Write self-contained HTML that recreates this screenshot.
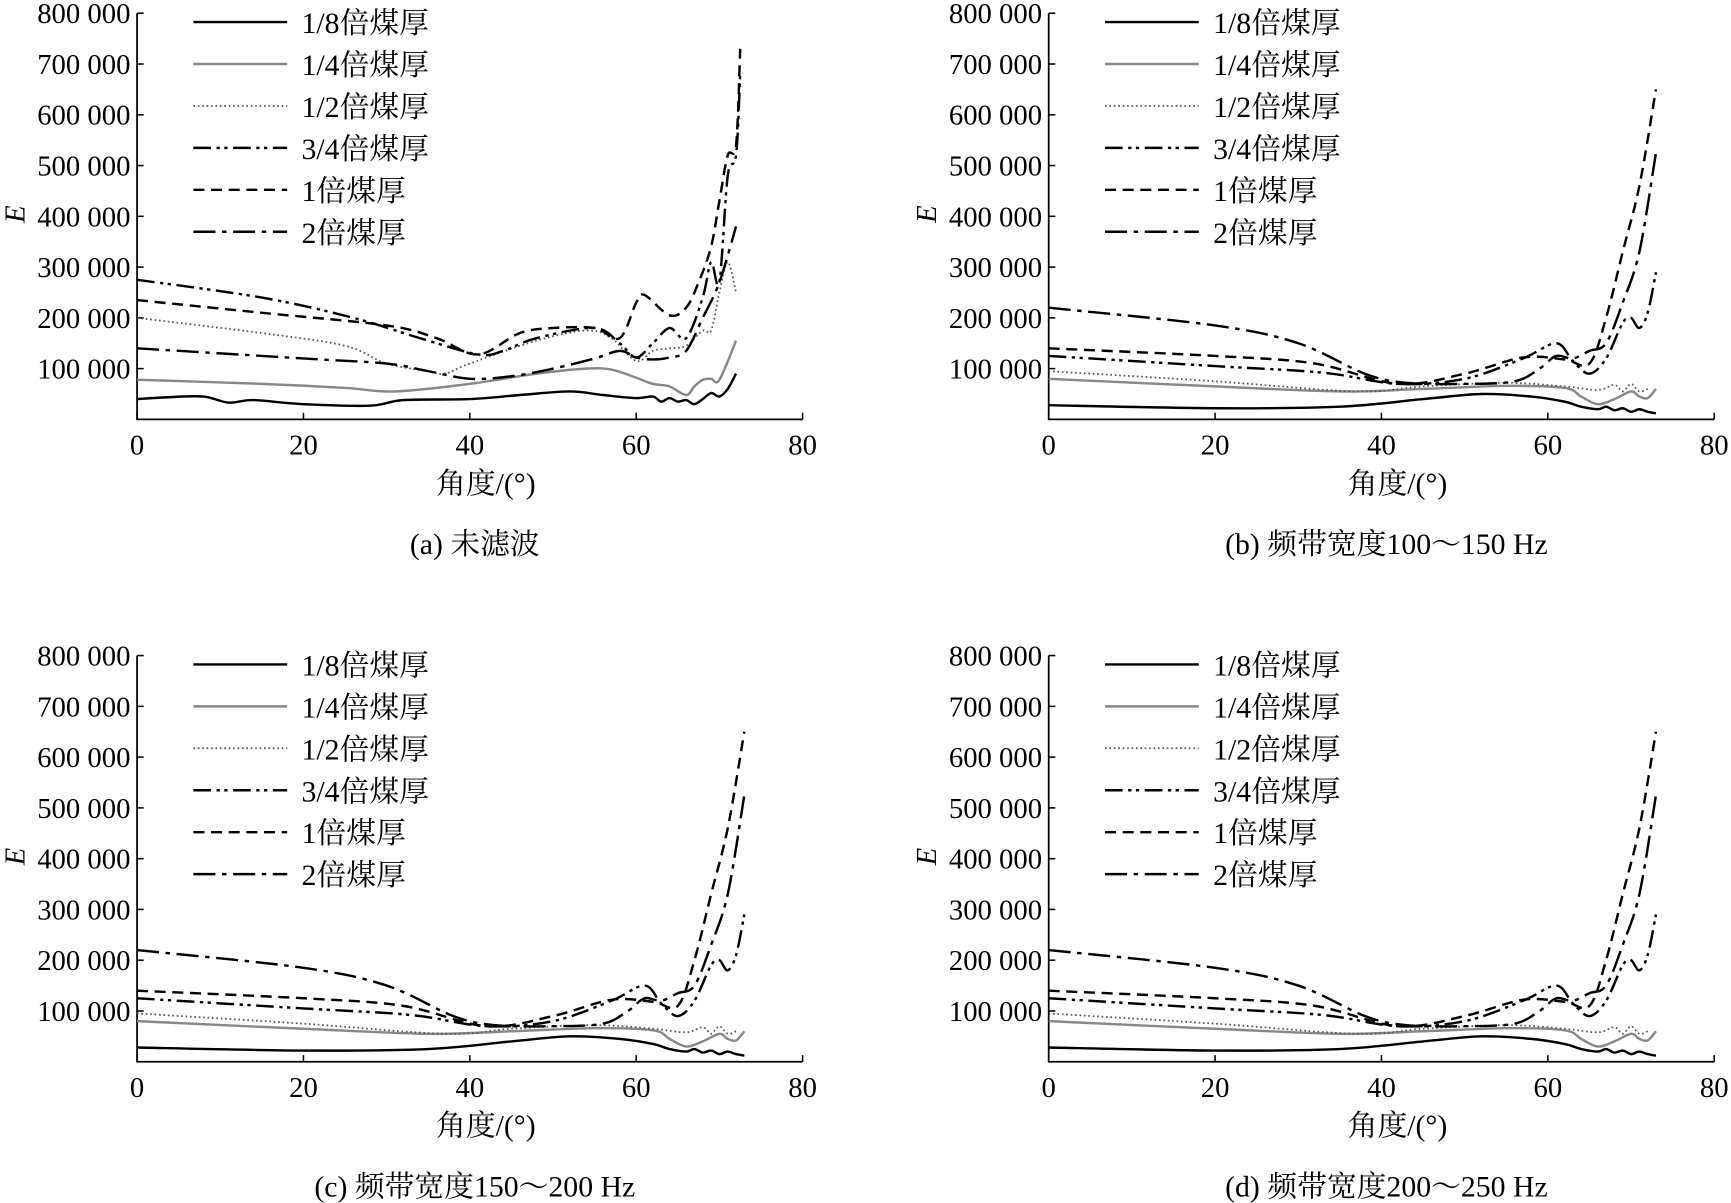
<!DOCTYPE html>
<html><head><meta charset="utf-8"><style>
html,body{margin:0;padding:0;background:#fff;}
svg{display:block;}
text{font-family:"Liberation Serif","Noto Serif CJK SC",serif;fill:#000;}
</style></head><body>
<svg id="fig" width="1731" height="1203" viewBox="0 0 1568 1090" xmlns="http://www.w3.org/2000/svg"></svg>
<script>
// ---- data (angle in degrees, energy E) ----
const xTicks=[0,20,40,60,80];
const yTicks=[100000,200000,300000,400000,500000,600000,700000,800000];
const yTickLabels=["100 000","200 000","300 000","400 000","500 000","600 000","700 000","800 000"];
const seriesNames=["1/8倍煤厚","1/4倍煤厚","1/2倍煤厚","3/4倍煤厚","1倍煤厚","2倍煤厚"];
const captions=["(a)  未滤波","(b) 频带宽度100～150 Hz","(c)  频带宽度150～200 Hz","(d) 频带宽度200～250 Hz"];

// Panel a
const aX1=[0,4,8,11,14,20,28,32,40,46,52,56,60,62,63,64,65,66,67,68,69,70,71,72];
const aY1=[40000,44000,45000,33000,38000,30000,27000,38000,40000,48000,55000,48000,42000,45000,35000,42000,35000,38000,30000,40000,52000,45000,60000,90000];
const aX2=[0,15,25,31,40,48,54,57,60,62,64,66,67,68,69,70,72];
const aY2=[78000,70000,62000,55000,70000,90000,100000,98000,82000,70000,65000,48000,65000,78000,80000,78000,155000];
const aX3=[0,15,25,30,35,37,40,48,54,57,60,62,64,66,68,69,70,71,72];
const aY3=[200000,170000,145000,110000,95000,90000,110000,155000,175000,160000,115000,135000,140000,145000,175000,175000,250000,310000,250000];
const aX4=[0,15,26,34,41,44,48,55,58,60,62,64,66,68,69,70,71,72,72.5];
const aY4=[275000,240000,200000,160000,128000,135000,160000,180000,150000,122000,150000,180000,160000,240000,310000,270000,480000,520000,680000];
const aX5=[0,15,30,36,41,46,50,55,58,60,61,64,66,67.5,69,70,71,72,72.5];
const aY5=[235000,210000,185000,160000,128000,170000,180000,180000,160000,230000,245000,205000,220000,270000,340000,430000,520000,540000,730000];
const aX6=[0,20,30,35,40,45,50,55,58,60,62,64,66,68,70,72];
const aY6=[140000,120000,110000,95000,80000,85000,100000,120000,135000,122000,118000,122000,135000,200000,270000,380000];

// Panels b,c,d (similar shapes)
const bX1=[0,20,35,45,52,58,62,64,66,67,68,69,70,71,72,73];
const bY1=[28000,22000,25000,40000,50000,45000,35000,25000,20000,25000,18000,22000,15000,20000,15000,12000];
const bX2=[0,20,35,45,55,62,64,66,68,70,71,72,73];
const bY2=[80000,65000,55000,60000,66000,62000,45000,30000,40000,55000,45000,42000,60000];
const bX3=[0,20,37,45,55,62,66,68,69,70,71,72];
const bY3=[95000,75000,55000,65000,72000,65000,58000,68000,55000,70000,55000,60000];
const bX4=[0,20,33,42,50,57,61,63,65,67,69,70,71,72,73];
const bY4=[125000,105000,92000,70000,80000,120000,150000,115000,90000,120000,190000,200000,180000,210000,290000];
const bX5=[0,20,32,42,50,57,62,65,67,69,71,73];
const bY5=[140000,125000,110000,70000,90000,122000,118000,110000,200000,330000,460000,650000];
const bX6=[0,20,30,38,43,50,56,59,61,63,65,67,69,71,73];
const bY6=[220000,185000,150000,90000,72000,70000,75000,100000,125000,120000,135000,150000,230000,330000,525000];

const panels=[
 {ox:124,oy:380,sets:[[aX1,aY1],[aX2,aY2],[aX3,aY3],[aX4,aY4],[aX5,aY5],[aX6,aY6]]},
 {ox:950,oy:380,sets:[[bX1,bY1],[bX2,bY2],[bX3,bY3],[bX4,bY4],[bX5,bY5],[bX6,bY6]]},
 {ox:124,oy:962,sets:[[bX1,bY1],[bX2,bY2],[bX3,bY3],[bX4,bY4],[bX5,bY5],[bX6,bY6]]},
 {ox:950,oy:962,sets:[[bX1,bY1],[bX2,bY2],[bX3,bY3],[bX4,bY4],[bX5,bY5],[bX6,bY6]]}
];
const styles=[
 {c:"#000",d:"",w:2.2},
 {c:"#888",d:"",w:2.2},
 {c:"#555",d:"1.5 2.5",w:1.6},
 {c:"#000",d:"16 5 3 4 3 5",w:2.2},
 {c:"#000",d:"10 6",w:2.2},
 {c:"#000",d:"20 6 4 6",w:2.2}
];
const NS="http://www.w3.org/2000/svg";
const svg=document.getElementById('fig');
function mk(tag,attrs,parent){const e=document.createElementNS(NS,tag);for(const k in attrs)e.setAttribute(k,attrs[k]);(parent||svg).appendChild(e);return e;}
function smooth(pts){
 let d="M"+pts[0][0].toFixed(1)+","+pts[0][1].toFixed(1);
 for(let i=0;i<pts.length-1;i++){
  const p0=pts[i-1]||pts[i],p1=pts[i],p2=pts[i+1],p3=pts[i+2]||p2;
  const c1=[p1[0]+(p2[0]-p0[0])/6,p1[1]+(p2[1]-p0[1])/6];
  const c2=[p2[0]-(p3[0]-p1[0])/6,p2[1]-(p3[1]-p1[1])/6];
  d+=" C"+c1[0].toFixed(1)+","+c1[1].toFixed(1)+" "+c2[0].toFixed(1)+","+c2[1].toFixed(1)+" "+p2[0].toFixed(1)+","+p2[1].toFixed(1);
 }
 return d;
}
const W=603, PX=46/100000;
panels.forEach((p,pi)=>{
 const g=mk('g',{});
 
 
 const xs=v=>p.ox+v/80*W, ys=v=>p.oy-v*PX;
 const top=ys(800000);
 const ax=mk('path',{d:`M${p.ox},${top} V${p.oy} H${p.ox+W}`,fill:'none',stroke:'#000','stroke-width':1.6},g);
 
 
 xTicks.forEach(t=>{
  const tk=mk('line',{x1:xs(t),x2:xs(t),y1:p.oy,y2:p.oy-6,stroke:'#000','stroke-width':1.4},g);
  
  
  const tl=mk('text',{x:xs(t),y:p.oy+32,'font-size':26,'text-anchor':'middle'},g);
  tl.textContent=t;
  
  
 });
 yTicks.forEach((t,i)=>{
  const tk=mk('line',{x1:p.ox,x2:p.ox+6,y1:ys(t),y2:ys(t),stroke:'#000','stroke-width':1.4},g);
  
  
  const tl=mk('text',{x:p.ox-6,y:ys(t)+9,'font-size':26,'text-anchor':'end'},g);
  tl.textContent=yTickLabels[i];
  
  
 });
 const yt=mk('text',{x:0,y:0,'font-size':26,'font-style':'italic','text-anchor':'middle',transform:`translate(${p.ox-102},${p.oy-186}) rotate(-90)`},g);
 yt.textContent='E';
 
 
 const xt=mk('text',{x:p.ox+316,y:p.oy+67,'font-size':27,'text-anchor':'middle'},g);
 xt.textContent='角度/(°)';
 
 
 const cap=mk('text',{x:p.ox+306,y:p.oy+122,'font-size':27,'text-anchor':'middle'},g);
 cap.textContent=captions[pi];
 
 
 p.sets.forEach((s,si)=>{
  const pts=s[0].map((x,i)=>[xs(x),ys(s[1][i])]);
  const st=styles[si];
  const ln=mk('path',{d:smooth(pts),fill:'none',stroke:st.c,'stroke-width':st.w,'stroke-dasharray':st.d,'stroke-linejoin':'round'},g);
  
  
 });
 seriesNames.forEach((n,si)=>{
  const st=styles[si];
  const y=p.oy-360+si*38;
  const lg=mk('g',{},g);
  
  
  mk('line',{x1:p.ox+51,x2:p.ox+136,y1:y,y2:y,stroke:st.c,'stroke-width':st.w,'stroke-dasharray':st.d},lg);
  const lt=mk('text',{x:p.ox+149,y:y+10,'font-size':27},lg);
  lt.textContent=n;
 });
});
</script>
</body></html>
